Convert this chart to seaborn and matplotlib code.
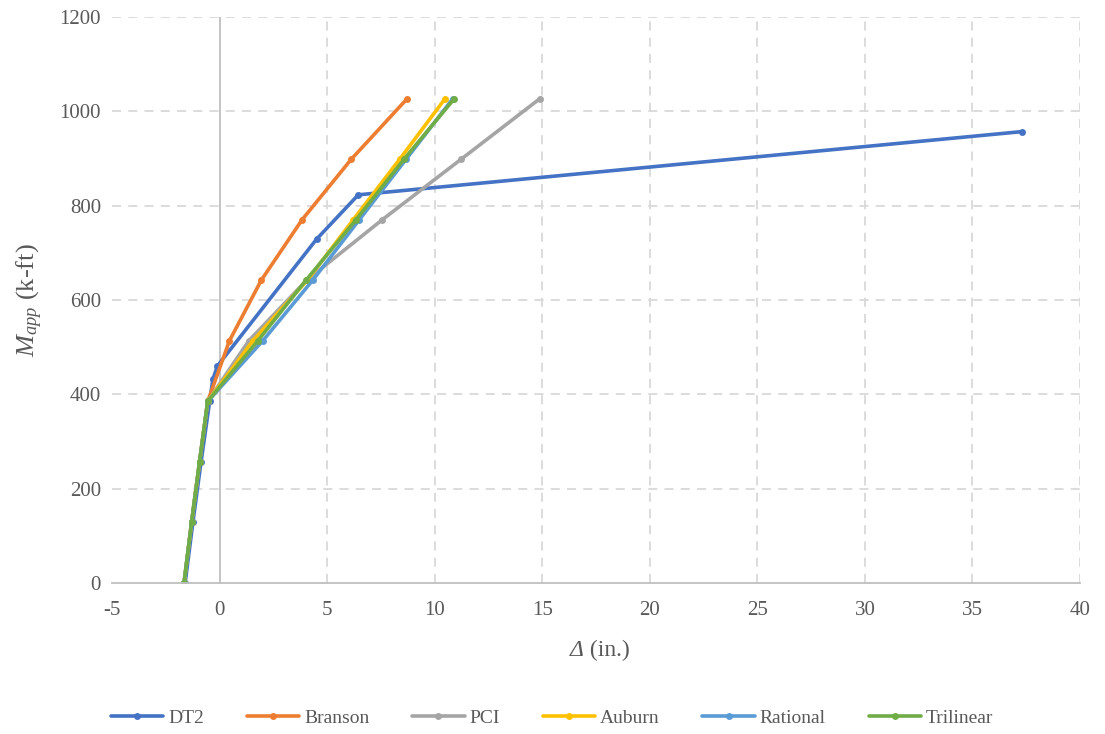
import matplotlib
matplotlib.use("Agg")
import matplotlib.pyplot as plt
from matplotlib.offsetbox import TextArea, HPacker, AnchoredOffsetbox
import seaborn as sns
import pandas as pd

# Applied moment vs. midspan deflection for six deflection models
series_names = ["DT2", "Branson", "PCI", "Auburn", "Rational", "Trilinear"]
colors = ["#4472C4", "#ED7D31", "#A5A5A5", "#FFC000", "#5B9BD5", "#70AD47"]

dt2_defl = [-1.60, -1.24, -0.86, -0.46, -0.31, -0.10, 4.51, 6.45, 37.3]
dt2_mom = [0, 128.4, 256.8, 385.2, 432, 460, 729, 823, 957]

branson_defl = [-1.65, -1.30, -0.93, -0.55, 0.46, 1.94, 3.84, 6.13, 8.73]
branson_mom = [0, 128.4, 256.8, 385.2, 513.6, 642, 770.4, 898.8, 1027.2]

pci_defl = [-1.65, -1.30, -0.93, -0.55, 1.36, 4.05, 7.57, 11.24, 14.9]
pci_mom = [0, 128.4, 256.8, 385.2, 513.6, 642, 770.4, 898.8, 1027.2]

auburn_defl = [-1.65, -1.30, -0.93, -0.55, 1.55, 4.08, 6.22, 8.38, 10.49]
auburn_mom = [0, 128.4, 256.8, 385.2, 513.6, 642, 770.4, 898.8, 1027.2]

rational_defl = [-1.65, -1.30, -0.93, -0.55, 2.01, 4.33, 6.50, 8.68, 10.85]
rational_mom = [0, 128.4, 256.8, 385.2, 513.6, 642, 770.4, 898.8, 1027.2]

trilinear_defl = [-1.65, -1.30, -0.93, -0.55, 1.78, 4.02, 6.35, 8.58, 10.92]
trilinear_mom = [0, 128.4, 256.8, 385.2, 513.6, 642, 770.4, 898.8, 1027.2]

x_ticks = [-5, 0, 5, 10, 15, 20, 25, 30, 35, 40]
y_ticks = [0, 200, 400, 600, 800, 1000, 1200]

defl_sets = [dt2_defl, branson_defl, pci_defl, auburn_defl, rational_defl, trilinear_defl]
mom_sets = [dt2_mom, branson_mom, pci_mom, auburn_mom, rational_mom, trilinear_mom]

frames = []
for name, d, m in zip(series_names, defl_sets, mom_sets):
    frames.append(pd.DataFrame({"defl": d, "moment": m, "model": name}))
df = pd.concat(frames, ignore_index=True)

sns.set_theme(style="white")
plt.rcParams["font.family"] = ["Liberation Serif", "DejaVu Serif"]
plt.rcParams["mathtext.fontset"] = "custom"
plt.rcParams["mathtext.rm"] = "Liberation Serif"
plt.rcParams["mathtext.it"] = "Liberation Serif:italic"
plt.rcParams["axes.unicode_minus"] = False

text_grey = "#595959"

fig = plt.figure(figsize=(11.05, 7.34), dpi=100)
ax = fig.add_axes([112 / 1105, 1 - 583 / 734, (1080 - 112) / 1105, (583 - 17) / 734])

sns.lineplot(data=df, x="defl", y="moment", hue="model", hue_order=series_names,
             palette=colors, sort=False, estimator=None, units="model",
             marker="o", markersize=5, markeredgewidth=0, linewidth=2.6, ax=ax)

ax.set_xlim(-5, 40)
ax.set_ylim(0, 1200)
ax.set_xticks(x_ticks)
ax.set_yticks(y_ticks)
ax.tick_params(axis="x", labelsize=15, colors=text_grey, length=0, pad=13)
ax.tick_params(axis="y", labelsize=15, colors=text_grey, length=0, pad=8)

# dashed grid, with the vertical axis drawn through x = 0
for yv in y_ticks[1:]:
    ax.axhline(yv, color="#D9D9D9", linestyle=(0, (5, 4)), linewidth=1.3, zorder=0)
for xv in x_ticks[2:]:
    ax.axvline(xv, color="#D9D9D9", linestyle=(0, (5, 4)), linewidth=1.3, zorder=0)
ax.axvline(0, color="#BFBFBF", linewidth=1.3, zorder=0.5)

for side in ["top", "right", "left"]:
    ax.spines[side].set_visible(False)
ax.spines["bottom"].set_color("#BFBFBF")
ax.spines["bottom"].set_linewidth(1.3)

ax.set_xlabel("")
ax.set_ylabel(r"$M_{app}$ (k-ft)", fontsize=19, color=text_grey, labelpad=10)

# x-axis title: italic delta followed by the upright unit
delta_part = TextArea("Δ", textprops=dict(fontsize=17, color=text_grey, fontstyle="italic"))
unit_part = TextArea(" (in.)", textprops=dict(fontsize=17, color=text_grey))
xlabel_box = HPacker(children=[delta_part, unit_part], align="baseline", pad=0, sep=0)
anchored = AnchoredOffsetbox(loc="center", child=xlabel_box, frameon=False,
                             bbox_to_anchor=(600 / 1105, 1 - 650 / 734),
                             bbox_transform=fig.transFigure, borderpad=0, pad=0)
fig.add_artist(anchored)

handles, labels = ax.get_legend_handles_labels()
ax.get_legend().remove()
fig.legend(handles, labels, loc="center", bbox_to_anchor=(0.4995, 1 - 718 / 734),
           ncol=6, frameon=False, fontsize=14, handlelength=2.7,
           columnspacing=2.2, handletextpad=0.25, labelcolor=text_grey)

fig.savefig("out.png", dpi=100)
